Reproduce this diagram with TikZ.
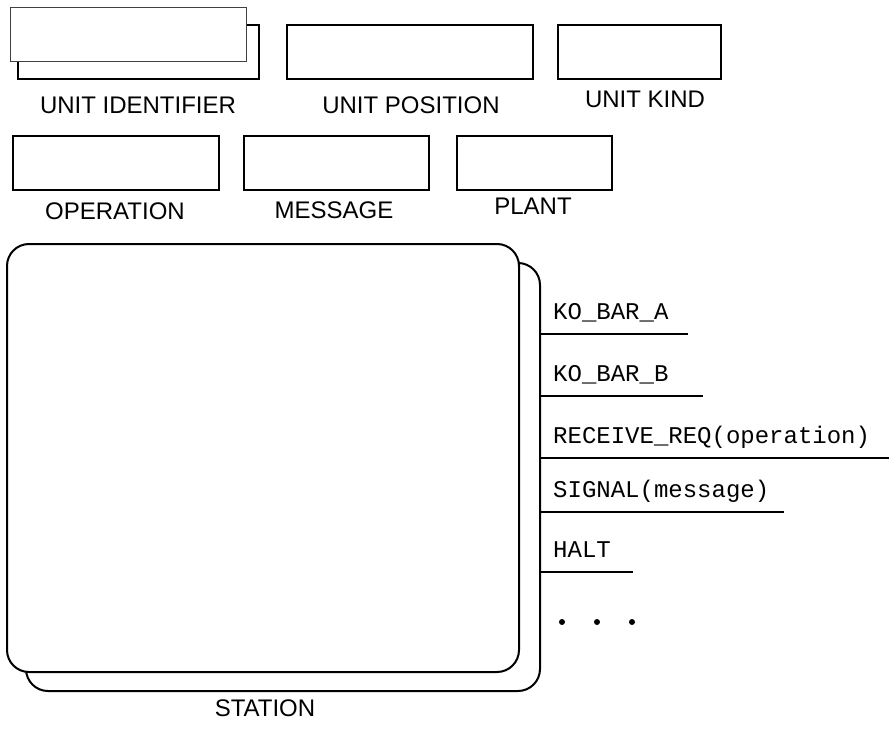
\documentclass[tikz,border=0pt]{standalone}
\usepackage{fontspec}
\setmainfont{Liberation Sans}
\setmonofont{Liberation Mono}
\usetikzlibrary{positioning}

\tikzset{
  field/.style={draw=black, line width=2pt, fill=white, inner sep=0pt, anchor=north west, minimum height=54pt},
  caption/.style={font=\fontsize{24}{26}\selectfont, inner sep=0pt},
  station/.style={draw=black, line width=2pt, fill=white, rounded corners=22pt, inner sep=0pt, anchor=north west},
  opname/.style={font=\ttfamily\fontsize{24}{26}\selectfont, inner sep=0pt, anchor=base west},
}

\begin{document}
\begin{tikzpicture}[x=1pt,y=-1pt]
  \useasboundingbox (0,0) rectangle (889,744);
  % first row of fields
  \node[field, minimum width=241pt] (unitidback) at (17,24) {};
  \node[field, draw=black!75, line width=0.8pt, minimum width=236pt] (unitid) at (10,7) {};
  \node[field, minimum width=246pt] (unitpos) at (286,24) {};
  \node[field, minimum width=163pt] (unitkind) at (557,24) {};
  \node[caption] at (138,105) {UNIT IDENTIFIER};
  \node[caption] at (411,105) {UNIT POSITION};
  \node[caption] at (645,99) {UNIT KIND};
  % second row of fields
  \node[field, minimum width=206pt] (operation) at (12,135) {};
  \node[field, minimum width=185pt] (message) at (243,135) {};
  \node[field, minimum width=155pt] (plant) at (456,135) {};
  \node[caption] at (115,211) {OPERATION};
  \node[caption] at (334,210) {MESSAGE};
  \node[caption] at (533,206) {PLANT};
  % station: two stacked rounded boxes
  \node[station, minimum width=514pt, minimum height=428pt] (stback) at (25,262) {};
  \node[station, minimum width=512pt, minimum height=428pt] (stfront) at (6,243) {};
  \node[caption] at (265,708) {STATION};
  % operations listed to the right of the station
  \foreach \i/\txt/\xend/\yy in {1/{KO\_BAR\_A}/688/334, 2/{KO\_BAR\_B}/703/396,
      3/{RECEIVE\_REQ(operation)}/889/458, 4/{SIGNAL(message)}/784/512, 5/{HALT}/633/572} {
    \coordinate (e\i) at (\xend,\yy);
    \draw[line width=2pt] (stback.east |- e\i) -- (e\i);
    \node[opname] (op\i) at (553,\yy-15) {\txt};
  }
  \foreach \xx in {562,597,632}
    \fill (\xx,622) circle (3pt);
\end{tikzpicture}
\end{document}
